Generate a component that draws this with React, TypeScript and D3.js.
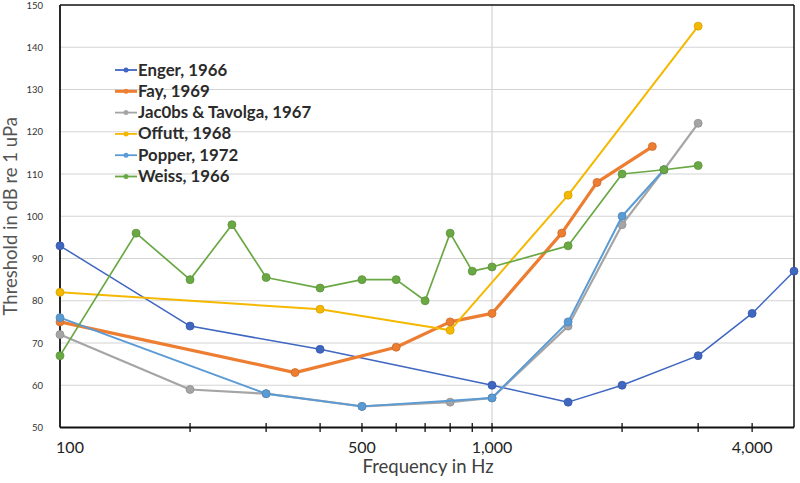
import React from 'react';
import * as d3 from 'd3';

const seriesNames = ['Enger, 1966', 'Fay, 1969', 'Jac0bs & Tavolga, 1967', 'Offutt, 1968', 'Popper, 1972', 'Weiss, 1966'];
const seriesColors = ['#3f66c1', '#ed7d31', '#a5a5a5', '#f5b800', '#5b9bd5', '#6aa843'];
const seriesWidths = [1.5, 3.2, 2.2, 2, 2, 1.7];

const engerFreq = [100, 200, 400, 1000, 1500, 2000, 3000, 4000, 5000];
const engerVal = [93, 74, 68.5, 60, 56, 60, 67, 77, 87];
const fayFreq = [100, 350, 600, 800, 1000, 1450, 1750, 2350];
const fayVal = [75, 63, 69, 75, 77, 96, 108, 116.5];
const jacobsFreq = [100, 200, 300, 500, 800, 1000, 1500, 2000, 2500, 3000];
const jacobsVal = [72, 59, 58, 55, 56, 57, 74, 98, 111, 122];
const offuttFreq = [100, 400, 800, 1500, 3000];
const offuttVal = [82, 78, 73, 105, 145];
const popperFreq = [100, 300, 500, 1000, 1500, 2000, 2500];
const popperVal = [76, 58, 55, 57, 75, 100, 111];
const weissFreq = [100, 150, 200, 250, 300, 400, 500, 600, 700, 800, 900, 1000, 1500, 2000, 2500, 3000];
const weissVal = [67, 96, 85, 98, 85.5, 83, 85, 85, 80, 96, 87, 88, 93, 110, 111, 112];

const yTicks = [50, 60, 70, 80, 90, 100, 110, 120, 130, 140, 150];
const xTickMarks = [200, 300, 400, 500, 600, 700, 800, 900, 1000, 2000, 3000, 4000];
const xTickLabels = [100, 500, 1000, 4000];

const allFreq = [engerFreq, fayFreq, jacobsFreq, offuttFreq, popperFreq, weissFreq];
const allVal = [engerVal, fayVal, jacobsVal, offuttVal, popperVal, weissVal];

const W = 800, H = 483;
const L = 60, R = 794, T = 5, B = 427.5;

export default function App() {
  const x = d3.scaleLog().domain([100, 5000]).range([L, R]);
  const y = d3.scaleLinear().domain([50, 150]).range([B, T]);
  const line = d3.line<[number, number]>().x(d => x(d[0])).y(d => y(d[1]));
  const fmt = d3.format(',');
  const font = 'Lato, "Open Sans", sans-serif';

  const series = seriesNames.map((name, i) => ({
    name,
    color: seriesColors[i],
    width: seriesWidths[i],
    pts: allFreq[i].map((f, j) => [f, allVal[i][j]] as [number, number]),
  }));

  return (
    <svg width={W} height={H} style={{ position: 'absolute', left: 0, top: 0, background: '#fff' }} fontFamily={font}>
      <rect x={0} y={0} width={W} height={H} fill="#fff" />
      {yTicks.filter(t => t > 50 && t < 150).map(t => (
        <line key={'g' + t} x1={L} x2={R} y1={y(t)} y2={y(t)} stroke="#d4d4d4" strokeWidth={1.2} />
      ))}
      <line x1={x(1000)} x2={x(1000)} y1={T} y2={B} stroke="#d4d4d4" strokeWidth={1.2} />
      <line x1={L} x2={R} y1={T} y2={T} stroke="#111" strokeWidth={1.5} />
      <line x1={R} x2={R} y1={T} y2={B} stroke="#111" strokeWidth={1.5} />
      <line x1={L} x2={L} y1={T} y2={B} stroke="#111" strokeWidth={1.8} />
      <line x1={L} x2={R} y1={B} y2={B} stroke="#111" strokeWidth={1.8} />
      {xTickMarks.map(t => (
        <line key={'t' + t} x1={x(t)} x2={x(t)} y1={B - 4.5} y2={B + 4.5} stroke="#111" strokeWidth={1.3} />
      ))}
      {yTicks.map(t => (
        <text key={'yl' + t} x={43} y={y(t) + 3.5} textAnchor="end" fontSize={9.5} fill="#333">{t}</text>
      ))}
      {xTickLabels.map(t => (
        <text key={'xl' + t} x={t === 100 ? 70 : x(t)} y={453} textAnchor="middle" fontSize={16} fill="#222">{fmt(t)}</text>
      ))}
      <text x={428} y={473} textAnchor="middle" fontSize={18.5} fill="#404040">Frequency in Hz</text>
      <text transform={`translate(17,${(T + B) / 2}) rotate(-90)`} textAnchor="middle" fontSize={18.5} fill="#555">Threshold in dB re 1 uPa</text>
      {series.map(s => (
        <g key={s.name}>
          <path d={line(s.pts) || ''} fill="none" stroke={s.color} strokeWidth={s.width} strokeLinejoin="round" />
          {s.pts.map((p, j) => (
            <circle key={j} cx={x(p[0])} cy={y(p[1])} r={4} fill={s.color} stroke={d3.color(s.color)!.darker(0.4).toString()} strokeWidth={0.8} />
          ))}
        </g>
      ))}
      {series.map((s, i) => {
        const cy = 70 + i * 21.3;
        return (
          <g key={'lg' + i}>
            <line x1={115} x2={137} y1={cy} y2={cy} stroke={s.color} strokeWidth={i === 1 ? 3 : 1.8} />
            <circle cx={126} cy={cy} r={2.5} fill={s.color} />
            <text x={138} y={cy + 5.5} fontSize={16.8} fontWeight="bold" fill="#2b2b2b">{s.name}</text>
          </g>
        );
      })}
    </svg>
  );
}
